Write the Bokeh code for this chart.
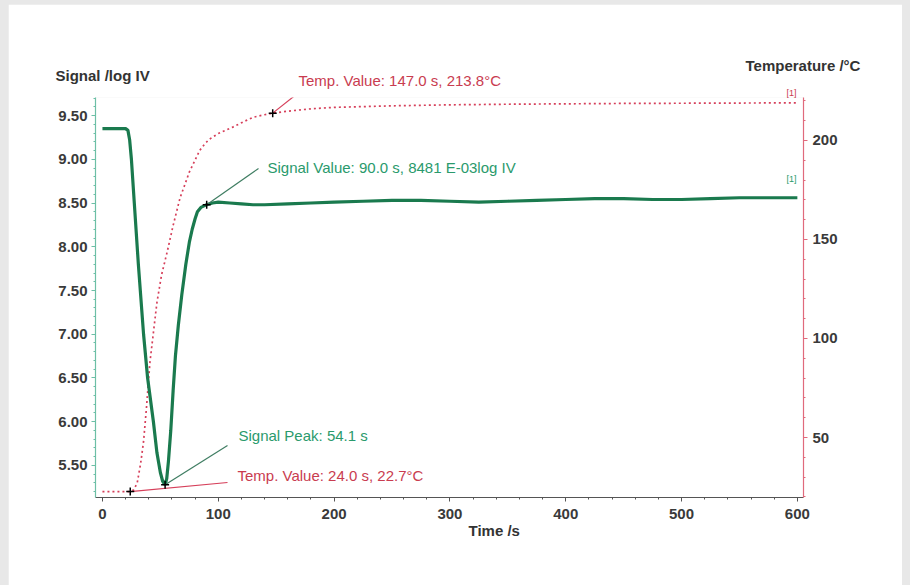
from bokeh.plotting import figure
from bokeh.models import Range1d, LinearAxis, FixedTicker, Label, NumeralTickFormatter
from bokeh.layouts import column
from bokeh.embed import file_html
from bokeh.resources import INLINE

# ---------------- data ----------------
sig_time = [0, 5, 10, 15, 20, 22, 23.5, 25, 27.5, 31, 35.5, 39, 44, 47, 50, 52, 54.1,
            55.5, 57, 59, 61, 63, 65.5, 68.5, 72, 75, 77.5, 80, 82, 85, 90, 95, 100, 110, 120,
            130, 140, 160, 180, 200, 225, 250, 275, 300, 325, 350, 375, 400, 425, 450,
            475, 500, 525, 550, 575, 600]
sig_value = [9.35, 9.35, 9.35, 9.35, 9.35, 9.33, 9.22, 9.0, 8.5, 7.8, 7.0, 6.5, 6.0, 5.65, 5.42, 5.32, 5.28,
             5.35, 5.55, 5.9, 6.35, 6.75, 7.1, 7.45, 7.8, 8.05, 8.2, 8.32, 8.4, 8.45, 8.481, 8.50, 8.51, 8.50, 8.49,
             8.48, 8.48, 8.49, 8.50, 8.51, 8.52, 8.53, 8.53, 8.52, 8.51, 8.52, 8.53, 8.54, 8.55, 8.55,
             8.54, 8.54, 8.55, 8.56, 8.56, 8.56]

temp_time = [0, 5, 10, 15, 20, 24, 27, 30, 33, 35.5, 38, 41, 44, 47, 51, 56, 61, 67, 75, 84,
             88, 92, 100, 112, 122, 130, 140, 147, 160, 180, 200, 250, 300, 350, 400, 450,
             500, 550, 600]
temp_value = [22.7, 22.7, 22.7, 22.7, 22.7, 22.7, 23.5, 27, 37, 48, 65, 88, 103, 118, 132, 144,
              157, 171, 184, 195, 198, 200.5, 203.5, 206.6, 209.5, 211.7, 213.0, 213.8, 214.8,
              216.0, 216.7, 217.5, 218.0, 218.3, 218.5, 218.7, 218.8, 218.9, 219.0]

# marked points
sig_mark_time = [54.1, 90.0]
sig_mark_value = [5.28, 8.481]
temp_mark_time = [24.0, 147.0]
temp_mark_value = [22.7, 213.8]

x_ticks = [0, 100, 200, 300, 400, 500, 600]
y_ticks = [5.5, 6.0, 6.5, 7.0, 7.5, 8.0, 8.5, 9.0, 9.5]
t_ticks = [50, 100, 150, 200]

# ---------------- layout constants (image pixels) ----------------
OX, OY = 8, 4              # figure offset inside gray frame
FL, FR, FT, FB = 95, 803, 97, 497   # plot frame in image px
X_LO, X_HI = -6.0, 605.3
Y_LO, Y_HI = 5.134, 9.706
T_LO, T_HI = 19.7, 221.7


def xd(px):
    return X_LO + (px - FL) * (X_HI - X_LO) / (FR - FL)


def yd(py):
    return Y_HI - (py - FT) * (Y_HI - Y_LO) / (FB - FT)


def td(py):
    return T_HI - (py - FT) * (T_HI - T_LO) / (FB - FT)


GREEN = "#1a7a4e"
GREEN_TXT = "#2a9a6c"
RED = "#d63f5a"
RED_TXT = "#c93c50"
TICK_COL = "#3a3a3a"
FONT = "Liberation Sans"

p = figure(width=894, height=581, x_range=Range1d(X_LO, X_HI), y_range=Range1d(Y_LO, Y_HI),
           output_backend="svg", toolbar_location=None,
           min_border_left=FL - OX, min_border_right=894 - (FR - OX),
           min_border_top=FT - OY, min_border_bottom=581 - (FB - OY),
           background_fill_color="white", border_fill_color="white",
           outline_line_color=None)
p.margin = (OY, 8, 0, OX)
p.grid.visible = False
p.extra_y_ranges = {"temp": Range1d(T_LO, T_HI)}


def style_axis(ax, line_col):
    ax.axis_line_color = line_col
    ax.axis_line_width = 1.2
    ax.major_tick_line_color = line_col
    ax.minor_tick_line_color = line_col
    ax.major_tick_out = 4
    ax.major_tick_in = 0
    ax.minor_tick_out = 2
    ax.minor_tick_in = 0
    ax.major_label_text_font = FONT
    ax.major_label_text_font_style = "bold"
    ax.major_label_text_font_size = "15px"
    ax.major_label_text_color = TICK_COL


# x axis
xa = p.xaxis[0]
xa.ticker = FixedTicker(ticks=x_ticks, minor_ticks=list(range(0, 601, 20)))
style_axis(xa, "#555555")
xa.major_label_standoff = 7

# left axis
ya = p.yaxis[0]
ya.ticker = FixedTicker(ticks=y_ticks, minor_ticks=[round(5.2 + 0.1 * i, 2) for i in range(46)])
ya.formatter = NumeralTickFormatter(format="0.00")
style_axis(ya, "#6dbfa6")
ya.major_label_standoff = 4

# right axis
ta = LinearAxis(y_range_name="temp",
                ticker=FixedTicker(ticks=t_ticks, minor_ticks=list(range(20, 221, 10))))
style_axis(ta, "#e06a7c")
ta.major_label_standoff = 5
p.add_layout(ta, "right")

# curves
p.line(temp_time, temp_value, y_range_name="temp", color=RED, line_width=1.7, line_dash="2 3")
p.line(sig_time, sig_value, color=GREEN, line_width=3.2)

# leader lines (from marked point to its text)
p.segment(x0=[sig_mark_time[0], sig_mark_time[1]], y0=[sig_mark_value[0], sig_mark_value[1]],
          x1=[xd(227), xd(258)], y1=[yd(445), yd(168)], color="#3f7d62", line_width=1.2)
p.segment(x0=temp_mark_time, y0=temp_mark_value, x1=[xd(227), xd(297)], y1=[td(482), td(93)],
          y_range_name="temp", color=RED, line_width=1.2)

# markers
p.scatter(sig_mark_time, sig_mark_value, marker="cross", size=8, color="black", line_width=1.5)
p.scatter(temp_mark_time, temp_mark_value, y_range_name="temp", marker="cross", size=8,
          color="black", line_width=1.5)


def add_label(px, py, text, color, size="15px", style="normal", align="left", place="center"):
    lab = Label(x=xd(px), y=yd(py), text=text, text_color=color, text_font=FONT,
                text_font_size=size, text_font_style=style, text_align=align,
                text_baseline="middle")
    if place == "center":
        p.add_layout(lab)
    else:
        p.add_layout(lab, place)


# texts inside the frame
add_label(267, 167, f"Signal Value: {sig_mark_time[1]:.1f} s, {int(round(sig_mark_value[1]*1000))} E-03log IV", GREEN_TXT)
add_label(238, 435, f"Signal Peak: {sig_mark_time[0]:.1f} s", GREEN_TXT)
add_label(237, 475, f"Temp. Value: {temp_mark_time[0]:.1f} s, {temp_mark_value[0]:.1f}°C", RED_TXT)
add_label(791, 178, "[1]", GREEN_TXT, size="9px", align="center")

# texts outside the frame (side panels are not clipped)
add_label(298, 80, f"Temp. Value: {temp_mark_time[1]:.1f} s, {temp_mark_value[1]:.1f}°C", RED_TXT, place="above")
add_label(791, 92, "[1]", RED_TXT, size="9px", align="center", place="above")
add_label(55, 75, "Signal /log IV", "#333333", style="bold", place="above")
add_label(745, 65, "Temperature /°C", "#333333", style="bold", place="above")
add_label(468, 530, "Time /s", "#333333", style="bold", place="below")

layout = column(p, styles={"background-color": "#e8e8e8"})
open("out.html", "w").write(file_html(layout, INLINE))
